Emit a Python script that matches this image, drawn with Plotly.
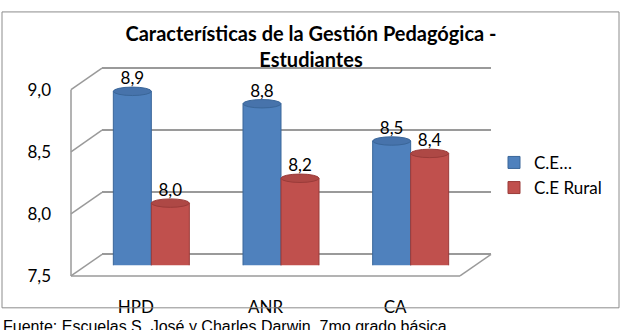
import plotly.graph_objects as go

# ---- data ----
categories = ["HPD", "ANR", "CA"]
series_names = ["C.E…", "C.E Rural"]
ce_values = [8.9, 8.8, 8.5]
rural_values = [8.0, 8.2, 8.4]
y_ticks = [7.5, 8.0, 8.5, 9.0]
title_text = "Características de la Gestión Pedagógica -<br>Estudiantes"
source_text = "Fuente: Escuelas S. José y Charles Darwin, 7mo grado básica"

W, H = 624, 330
FONT = "Lato"
FS = 17


def px(x):
    return x / W


def py(y):
    return 1 - y / H


# front plane / back wall geometry (pixels)
FRONT_L, FRONT_R, FRONT_TOP, FRONT_BOT = 71, 460, 84, 283
DX, DY = 31, -23
MID_DX, MID_DY = DX / 2, DY / 2
ymin, ymax = y_ticks[0], y_ticks[-1]
PX_PER_UNIT = (FRONT_BOT - FRONT_TOP) / (ymax - ymin)
EPS = 0.01  # tiny range padding so that the edge gridlines are drawn

BAR_W = 0.293
colors = ["#4F81BD", "#C0504D"]
edge_colors = ["#3A6699", "#9A3B39"]
top_fill = ["#4773AB", "#AE4845"]

fig = go.Figure()
# helper (empty) trace so that the back-wall grid subplot exists (drawn first -> behind bars)
fig.add_trace(go.Scatter(x=[], y=[], xaxis="x", yaxis="y", showlegend=False, hoverinfo="skip"))
for name, vals, c, ec in zip(series_names, [ce_values, rural_values], colors, edge_colors):
    fig.add_trace(go.Bar(
        x=list(range(len(categories))), y=vals, name=name, xaxis="x2", yaxis="y2",
        marker=dict(color=c, line=dict(color=ec, width=1)),
        texttemplate="%{y:.1f}", textposition="outside", cliponaxis=False,
        textfont=dict(family=FONT, size=FS, color="#000000"),
    ))
fig.add_trace(go.Scatter(x=[], y=[], xaxis="x3", yaxis="y3", showlegend=False, hoverinfo="skip"))

shapes = []
line_style = dict(color="#9A9A9A", width=1.5)
# front-left vertical edge
shapes.append(dict(type="line", xref="paper", yref="paper",
                   x0=px(FRONT_L), x1=px(FRONT_L), y0=py(FRONT_TOP), y1=py(FRONT_BOT), line=line_style))
# side-wall diagonals at each tick
for v in y_ticks:
    fy = FRONT_BOT - (v - ymin) * PX_PER_UNIT
    shapes.append(dict(type="line", xref="paper", yref="paper",
                       x0=px(FRONT_L), y0=py(fy), x1=px(FRONT_L + DX), y1=py(fy + DY),
                       line=line_style))
# floor front edge and right diagonal
shapes.append(dict(type="line", xref="paper", yref="paper",
                   x0=px(FRONT_L), x1=px(FRONT_R), y0=py(FRONT_BOT), y1=py(FRONT_BOT), line=line_style))
shapes.append(dict(type="line", xref="paper", yref="paper",
                   x0=px(FRONT_R), y0=py(FRONT_BOT), x1=px(FRONT_R + DX), y1=py(FRONT_BOT + DY),
                   line=line_style))
# cylinder tops (ellipses at the end of each bar, in data coordinates)
half_h = 4.5 / PX_PER_UNIT
for k, vals in enumerate([ce_values, rural_values]):
    off = (k - 0.5) * BAR_W
    for i, v in enumerate(vals):
        shapes.append(dict(type="circle", xref="x2", yref="y2",
                           x0=i + off - BAR_W / 2, x1=i + off + BAR_W / 2,
                           y0=v - half_h, y1=v + half_h,
                           fillcolor=top_fill[k], line=dict(color=edge_colors[k], width=1),
                           layer="above"))
# outer border
shapes.append(dict(type="rect", xref="paper", yref="paper",
                   x0=px(2), x1=px(619), y0=py(1), y1=py(317),
                   line=dict(color="#8C8C8C", width=1), fillcolor="rgba(0,0,0,0)"))

grid_pad_px = EPS * PX_PER_UNIT

fig.update_layout(
    width=W, height=H,
    margin=dict(l=0, r=0, t=0, b=0),
    paper_bgcolor="white", plot_bgcolor="rgba(0,0,0,0)",
    separators=",.",
    barmode="group", bargap=1 - 2 * BAR_W, bargroupgap=0,
    font=dict(family=FONT, size=FS, color="#000000"),
    title=dict(text="<b>" + title_text + "</b>", x=px(311), xanchor="center",
               y=py(41), yanchor="middle", yref="container",
               font=dict(family=FONT, size=20, color="#000000")),
    showlegend=True,
    legend=dict(x=px(494), y=py(143), xanchor="left", yanchor="top",
                font=dict(family=FONT, size=FS), tracegroupgap=0,
                bgcolor="rgba(0,0,0,0)"),
    # back wall gridlines
    xaxis=dict(domain=[px(FRONT_L + DX), px(FRONT_R + DX)], range=[0, 1], visible=False, anchor="y"),
    yaxis=dict(domain=[py(FRONT_BOT + DY + grid_pad_px), py(FRONT_TOP + DY - grid_pad_px)],
               range=[ymin - EPS, ymax + EPS],
               tickvals=y_ticks, showticklabels=False, showgrid=True,
               gridcolor="#9A9A9A", gridwidth=1.5, zeroline=False, ticks="", anchor="x"),
    # bars (mid-depth plane)
    xaxis2=dict(domain=[px(FRONT_L + MID_DX), px(FRONT_R + MID_DX)], range=[-0.5, 2.5],
                showticklabels=False, showgrid=False, zeroline=False, ticks="", anchor="y2"),
    yaxis2=dict(domain=[py(FRONT_BOT + MID_DY), py(FRONT_TOP + MID_DY)], range=[ymin, ymax],
                showticklabels=False, showgrid=False, zeroline=False, ticks="", anchor="x2"),
    # front plane labels
    xaxis3=dict(domain=[px(FRONT_L), px(FRONT_R)], range=[-0.5, 2.5], type="linear",
                tickvals=list(range(len(categories))), ticktext=categories,
                showgrid=False, zeroline=False,
                ticks="", anchor="y3", ticklabelstandoff=19,
                tickfont=dict(family=FONT, size=FS)),
    yaxis3=dict(domain=[py(FRONT_BOT), py(FRONT_TOP)], range=[ymin, ymax],
                tickvals=y_ticks, tickformat=".1f", showgrid=False, zeroline=False,
                ticks="", anchor="free", position=px(51), side="left",
                tickfont=dict(family=FONT, size=FS)),
    shapes=shapes,
    annotations=[dict(text=source_text, xref="paper", yref="paper",
                      x=px(1), y=py(319), xanchor="left", yanchor="top", showarrow=False,
                      yshift=-6,
                      font=dict(family="Liberation Sans", size=16, color="#000000"))],
)

fig.write_html("out.html")
